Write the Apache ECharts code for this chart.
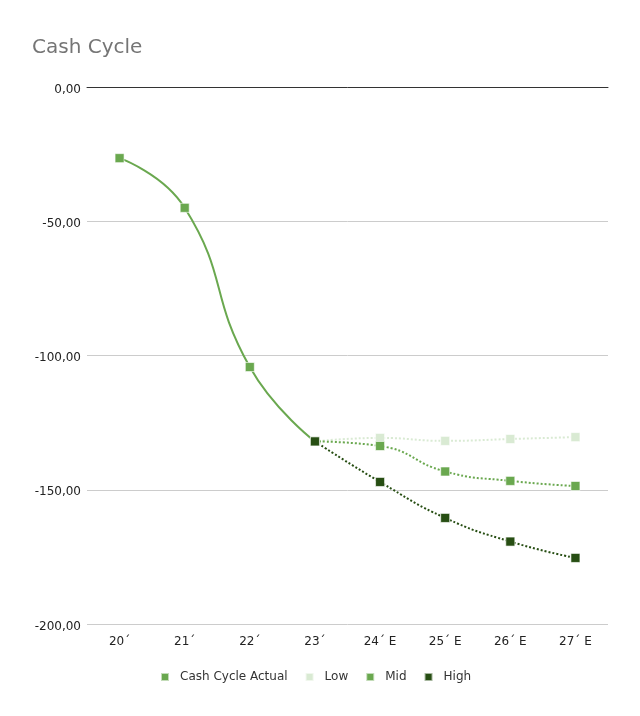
<!DOCTYPE html>
<html lang="en">
<head>
  <meta charset="UTF-8">
  <title>Cash Cycle</title>
  <script src="https://cdn.jsdelivr.net/npm/echarts@6/dist/echarts.min.js"></script>
  <style>
    body { margin: 0; background: #ffffff; }
    #main { width: 640px; height: 716px; }
  </style>
</head>
<body>
  <div id="main"></div>
  <script>
    const years = ['20´', '21´', '22´', '23´', '24´ E', '25´ E', '26´ E', '27´ E'];
    const actual = [-26.5, -45, -104.3, -132, null, null, null, null];
    const low = [null, null, null, -132, -130.7, -131.8, -131.1, -130.4];
    const mid = [null, null, null, -132, -133.7, -143.2, -146.7, -148.6];
    const high = [null, null, null, -132, -147.1, -160.5, -169.3, -175.4];

    var myChart = echarts.init(document.getElementById('main'));

    function fc(v) {
      return '{v|' + v.toFixed(2).replace('.', ',') + '}';
    }

    function line(name, data, color, dotted) {
      return {
        name: name,
        type: 'line',
        data: data,
        smooth: 0.5,
        symbol: 'rect',
        symbolSize: 9,
        connectNulls: false,
        lineStyle: { color: color, width: 2, type: dotted ? 'dotted' : 'solid' },
        itemStyle: { color: color, borderColor: 'rgba(255,255,255,0.6)', borderWidth: 1 }
      };
    }

    var option = {
      backgroundColor: '#ffffff',
      animation: false,
      title: {
        text: 'Cash Cycle',
        left: 27,
        top: 33,
        textStyle: { fontFamily: 'DejaVu Sans', fontSize: 20, fontWeight: 'normal', color: '#757575' }
      },
      legend: {
        top: 666,
        left: 155,
        icon: 'rect',
        itemWidth: 8,
        itemHeight: 8,
        itemGap: 17,
        textStyle: { fontFamily: 'DejaVu Sans', fontSize: 12, color: '#333', padding: [0, 0, 0, 6] },
        data: ['Cash Cycle Actual', 'Low', 'Mid', 'High']
      },
      grid: { left: 87, right: 32, top: 87, bottom: 92 },
      xAxis: [
        {
          type: 'category',
          data: years,
          position: 'bottom',
          axisLine: { show: false, onZero: false },
          axisTick: { show: false },
          axisLabel: { fontFamily: 'DejaVu Sans', fontSize: 12, color: '#222', margin: 12 }
        },
        {
          type: 'category',
          data: years,
          position: 'top',
          axisLine: { show: true, onZero: false, lineStyle: { color: '#333', width: 1 } },
          axisTick: { show: false },
          axisLabel: { show: false }
        }
      ],
      yAxis: {
        type: 'value',
        min: -200,
        max: 0,
        interval: 50,
        axisLine: { show: false },
        axisTick: { show: false },
        axisLabel: {
          margin: 6,
          formatter: fc,
          rich: { v: { fontFamily: 'DejaVu Sans', fontSize: 12, color: '#222', padding: [5, 0, 0, 0] } }
        },
        splitLine: { lineStyle: { color: '#cccccc' } }
      },
      series: [
        line('Cash Cycle Actual', actual, '#6aa84f', false),
        line('Low', low, '#d9ead3', true),
        line('Mid', mid, '#6aa84f', true),
        line('High', high, '#274e13', true)
      ]
    };

    myChart.setOption(option);
  </script>
</body>
</html>
